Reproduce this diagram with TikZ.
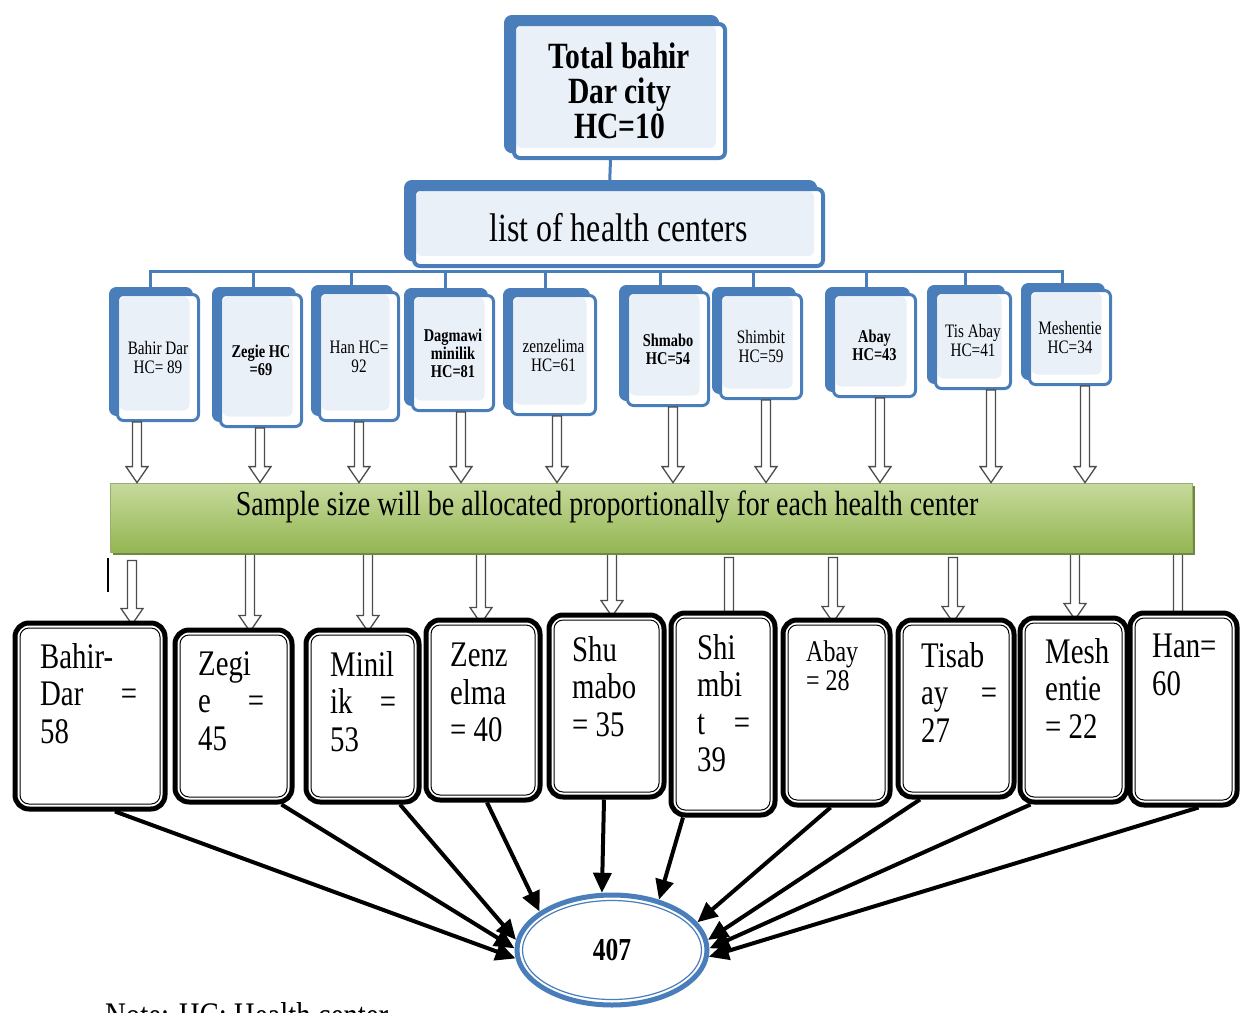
\documentclass[tikz,border=0pt]{standalone}
\usepackage{fontspec}
\setmainfont{Liberation Serif}[FakeStretch=0.8]
\usetikzlibrary{calc,shadows,arrows.meta,shapes.geometric,backgrounds}
\definecolor{hcblue}{HTML}{4A7EBB}
\definecolor{hclight}{HTML}{EAF0F8}
\definecolor{gtop}{HTML}{C6DA9C}
\definecolor{gbot}{HTML}{94B652}
\definecolor{gdark}{HTML}{6E8B35}
\newcommand{\fs}[2]{\fontsize{#1}{#2}\selectfont}
\newcommand{\harrow}[3]{%
  \draw[blockarrow] let \p1=(#1), \p2=(#2), \p3=(#3) in
    (\x1-4.5pt,\y2) -- (\x1-4.5pt,\y3+16pt) -- (\x1-11pt,\y3+16pt) -- (\x1,\y3)
    -- (\x1+11pt,\y3+16pt) -- (\x1+4.5pt,\y3+16pt) -- (\x1+4.5pt,\y2) -- cycle;}
\tikzset{
  bluebox/.style={rectangle, rounded corners=6pt, draw=hcblue, line width=3pt, fill=white,
    inner sep=0pt, align=center,
    general shadow={fill=hcblue, draw=hcblue, line width=3pt, shadow xshift=-7pt, shadow yshift=6pt},
    path picture={\fill[hclight] ([shift={(2pt,-2pt)}]path picture bounding box.north west)
       rectangle ([shift={(-9pt,10pt)}]path picture bounding box.south east);}},
  bigbox/.style={bluebox, line width=4pt,
    general shadow={fill=hcblue, draw=hcblue, line width=4pt, shadow xshift=-8pt, shadow yshift=7pt}},
  hctxt/.style={font=\fs{19}{19}},
  hcbold/.style={font=\fs{18}{18}\bfseries},
  busline/.style={draw=hcblue, line width=3pt},
  blockarrow/.style={draw=black!70, fill=white, line width=1.3pt, line join=miter},
  bbox/.style={rectangle, rounded corners=14pt, draw=black, line width=5pt, fill=white, inner sep=0pt,
    path picture={\draw[line width=1pt, rounded corners=9pt]
       ([shift={(5pt,-5pt)}]path picture bounding box.north west) rectangle
       ([shift={(-5pt,5pt)}]path picture bounding box.south east);}},
  btxt/.style={anchor=north west, inner sep=0pt, align=left, font=\fs{36}{37.5}},
  conn/.style={line width=4pt, -{Triangle[length=20pt,width=18pt]}},
  greenbar/.style={rectangle, inner sep=0pt, top color=gtop, bottom color=gbot, draw=gdark!70, line width=0.8pt,
    general shadow={fill=gdark, shadow xshift=3pt, shadow yshift=-3pt}}
}
\begin{document}
\begin{tikzpicture}[x=1pt,y=-1pt]
\useasboundingbox (0,0) rectangle (1242,1012);

% top boxes
\node[bigbox, minimum width=211pt, minimum height=134pt, font=\fs{37}{35}\bfseries] (top) at (619.5,91) {Total bahir\\Dar city\\HC=10};
\node[bigbox, minimum width=409pt, minimum height=77pt, font=\fs{40}{40}] (list) at (618.5,227.5) {list of health centers};
\draw[busline] ([xshift=-9pt]top.south) -- ([xshift=-9pt]list.north);

% health centre boxes
\node[bluebox, hctxt, minimum width=81pt, minimum height=126pt] (h1) at (158,357.5) {Bahir Dar\\HC= 89};
\node[bluebox, hcbold, minimum width=81pt, minimum height=132pt] (h2) at (261,360.5) {Zegie HC\\=69};
\node[bluebox, hctxt, minimum width=79pt, minimum height=128pt] (h3) at (359,356.5) {Han HC=\\92};
\node[bluebox, hcbold, minimum width=81pt, minimum height=115pt] (h4) at (453,353) {Dagmawi\\minilik\\HC=81};
\node[bluebox, hctxt, minimum width=84pt, minimum height=119pt] (h5) at (553.5,355) {zenzelima\\HC=61};
\node[bluebox, hcbold, minimum width=81pt, minimum height=113pt] (h6) at (668,349) {Shmabo\\HC=54};
\node[bluebox, hctxt, minimum width=81pt, minimum height=104pt] (h7) at (761,346.5) {Shimbit\\HC=59};
\node[bluebox, hcbold, minimum width=82pt, minimum height=102pt] (h8) at (874.5,345.5) {Abay\\HC=43};
\node[bluebox, hctxt, minimum width=75pt, minimum height=96pt] (h9) at (973,340.5) {Tis Abay\\HC=41};
\node[bluebox, hctxt, minimum width=81pt, minimum height=94pt] (h10) at (1070,337.5) {Meshentie\\HC=34};

\begin{pgfonlayer}{background}
\coordinate (bus) at ([yshift=-3pt]list.south);
\foreach \n in {h1,h2,h3,h4,h5,h6,h7,h8,h9,h10}
  \draw[busline] (bus) -| ([xshift=-8pt]\n.north);
\end{pgfonlayer}

% green bar
\node[greenbar, minimum width=1082pt, minimum height=69pt] (green) at (651,517.5) {};
\node[font=\fs{35}{35}, inner sep=0pt] (gtxt) at (607,507) {Sample size will be allocated proportionally for each health center};

% upper hollow arrows
\harrow{[xshift=-21pt]h1.south}{[xshift=-21pt]h1.south}{green.north}
\harrow{[xshift=-1pt]h2.south}{[xshift=-1pt]h2.south}{green.north}
\harrow{h3.south}{h3.south}{green.north}
\harrow{[xshift=8pt]h4.south}{[xshift=8pt]h4.south}{green.north}
\harrow{[xshift=3.5pt]h5.south}{[xshift=3.5pt]h5.south}{green.north}
\harrow{[xshift=5pt]h6.south}{[xshift=5pt]h6.south}{green.north}
\harrow{[xshift=5pt]h7.south}{[xshift=5pt]h7.south}{green.north}
\harrow{[xshift=5.5pt]h8.south}{[xshift=5.5pt]h8.south}{green.north}
\harrow{[xshift=18pt]h9.south}{[xshift=18pt]h9.south}{green.north}
\harrow{[xshift=15pt]h10.south}{[xshift=15pt]h10.south}{green.north}

% stray mark
\coordinate (sa) at (108,558);
\coordinate (sb) at (108,592);
\draw[line width=1.5pt] (sa) -- (sb);

% lower boxes
\node[bbox, minimum width=150pt, minimum height=186pt] (b1) at (90,716) {};
\node[bbox, minimum width=117pt, minimum height=172pt] (b2) at (233.5,716) {};
\node[bbox, minimum width=113pt, minimum height=172pt] (b3) at (362.5,716) {};
\node[bbox, minimum width=114pt, minimum height=180pt] (b4) at (483,710) {};
\node[bbox, minimum width=115pt, minimum height=182pt] (b5) at (606.5,706) {};
\node[bbox, minimum width=104pt, minimum height=202pt] (b6) at (723,714) {};
\node[bbox, minimum width=107pt, minimum height=185pt] (b7) at (836.5,712.5) {};
\node[bbox, minimum width=116pt, minimum height=177pt] (b8) at (956,708.5) {};
\node[bbox, minimum width=107pt, minimum height=184pt] (b9) at (1073.5,710) {};
\node[bbox, minimum width=107pt, minimum height=192pt] (b10) at (1183.5,709) {};

% lower hollow arrows (behind the boxes)
\begin{pgfonlayer}{background}
\harrow{[xshift=42pt]b1.north}{[yshift=-8pt]green.south}{[yshift=-4pt]b1.north}
\harrow{[xshift=16.5pt]b2.north}{green.south}{[yshift=-4pt]b2.north}
\harrow{[xshift=5.5pt]b3.north}{green.south}{[yshift=-4pt]b3.north}
\harrow{[xshift=-2pt]b4.north}{green.south}{[yshift=-6pt]b4.north}
\harrow{[xshift=5.5pt]b5.north}{green.south}{[yshift=-4pt]b5.north}
\harrow{[xshift=6pt]b6.north}{[yshift=-5pt]green.south}{[yshift=-24pt]b6.north}
\harrow{[xshift=-3.5pt]b7.north}{[yshift=-5pt]green.south}{[yshift=-5pt]b7.north}
\harrow{[xshift=-3pt]b8.north}{[yshift=-5pt]green.south}{[yshift=-5pt]b8.north}
\harrow{[xshift=1.5pt]b9.north}{green.south}{[yshift=-4pt]b9.north}
\harrow{[xshift=-5.5pt]b10.north}{green.south}{[yshift=-24pt]b10.north}
\end{pgfonlayer}

% lower box texts
\node[btxt, text width=97pt] (t1) at (40,643) {Bahir-\\Dar\hfill=\\58};
\node[btxt, text width=66pt] (t2) at (198,651) {Zegi\\e\hfill=\\45};
\node[btxt, text width=66pt] (t3) at (330,651) {Minil\\ik\hfill=\\53};
\node[btxt] (t4) at (450,643) {Zenz\\elma\\= 40};
\node[btxt] (t5) at (572,636) {Shu\\mabo\\= 35};
\node[btxt, text width=53pt] (t6) at (697,634) {Shi\\mbi\\t\hfill=\\39};
\node[btxt, font=\fs{30}{29}] (t7) at (806,640) {Abay\\= 28};
\node[btxt, text width=76pt] (t8) at (921,642) {Tisab\\ay\hfill=\\27};
\node[btxt] (t9) at (1045,638) {Mesh\\entie\\= 22};
\node[btxt] (t10) at (1152,634) {Han=\\60};

% total ellipse
\node[ellipse, draw=hcblue, line width=5pt, fill=white, minimum width=190pt, minimum height=110pt, inner sep=0pt,
  font=\fs{32}{32}\bfseries,
  path picture={\draw[hcblue, line width=1.2pt] (path picture bounding box.center) ellipse [x radius=89.5pt, y radius=49.5pt];}]
  (e) at (612,950) {407};

\draw[conn] ([xshift=25pt]b1.south) -- (e.185);
\draw[conn] ([xshift=48pt]b2.south) -- (e.179);
\draw[conn] ([xshift=37.5pt]b3.south) -- (e.174);
\draw[conn] ([xshift=4pt]b4.south) -- (e.152);
\draw[conn] ([xshift=-2.5pt]b5.south) -- (e.100);
\draw[conn] ([xshift=-40pt]b6.south) -- (e.47);
\draw[conn] ([xshift=-6pt]b7.south) -- (e.18);
\draw[conn] ([xshift=-36pt]b8.south) -- (e.6.5);
\draw[conn] ([xshift=-43pt]b9.south) -- (e.1);
\draw[conn] ([xshift=15pt]b10.south) -- (e.356);

% note (cut by the lower edge, as in the reference)
\node[anchor=base west, inner sep=0pt, font=\fs{36}{36}] (note) at (105,1027) {Note: HC: Health center};
\end{tikzpicture}
\end{document}
